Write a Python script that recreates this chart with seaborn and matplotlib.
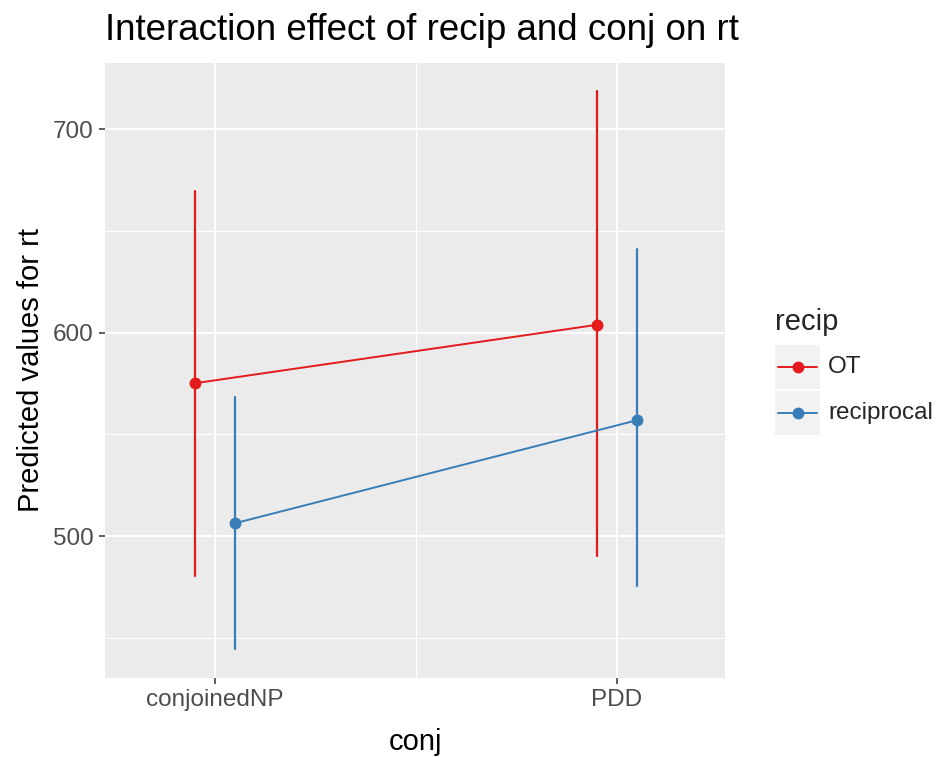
import matplotlib
matplotlib.use("Agg")
import matplotlib.pyplot as plt
from matplotlib.lines import Line2D
from matplotlib.patches import Rectangle
from matplotlib.ticker import FixedLocator
import pandas as pd
import seaborn as sns

# Predicted rt per condition with lower / upper confidence limits
conj_levels = ["conjoinedNP", "PDD"]
recip_levels = ["OT", "reciprocal"]
ot_pred = [575.2, 603.9]
ot_lower = [480.2, 490.5]
ot_upper = [669.8, 718.6]
recip_pred = [506.4, 557.0]
recip_lower = [444.4, 475.4]
recip_upper = [568.4, 641.1]

colors = {"OT": "#E41A1C", "reciprocal": "#377EB8"}

# long table: lower, predicted and upper value for every cell, so that
# the median is the prediction and the full range is the interval
rows = []
for lev, pred, lo, hi in [("OT", ot_pred, ot_lower, ot_upper),
                          ("reciprocal", recip_pred, recip_lower, recip_upper)]:
    for i, c in enumerate(conj_levels):
        for v in (lo[i], pred[i], hi[i]):
            rows.append({"conj": c, "recip": lev, "rt": v})
df = pd.DataFrame(rows)

sns.set_theme(style="darkgrid")
plt.rcParams["font.family"] = ["Liberation Sans", "DejaVu Sans"]

W, H = 938, 758
fig = plt.figure(figsize=(W / 100, H / 100), dpi=100)
fig.patch.set_facecolor("white")
ax = fig.add_axes([105 / W, (H - 678) / H, 620 / W, 615 / H])
ax.set_facecolor("#EBEBEB")

sns.pointplot(
    data=df, x="conj", y="rt", hue="recip",
    order=conj_levels, hue_order=recip_levels, palette=colors,
    estimator="median", errorbar=("pi", 100), dodge=0.1,
    markers="o", linestyles="-", markersize=7.5, linewidth=1.4,
    err_kws={"linewidth": 1.6}, legend=False, ax=ax,
)

ax.set_xlim(-0.274, 1.269)
ax.set_ylim(430.3, 732.6)

# grid
ax.yaxis.set_major_locator(FixedLocator([500, 600, 700]))
ax.yaxis.set_minor_locator(FixedLocator([450, 550, 650]))
ax.xaxis.set_minor_locator(FixedLocator([0.5]))
ax.grid(which="major", color="white", linewidth=1.4)
ax.grid(which="minor", color="white", linewidth=0.8)
ax.set_axisbelow(True)
for s in ax.spines.values():
    s.set_visible(False)

ax.tick_params(axis="both", which="major", length=4, width=1.1, color="#333333",
               labelsize=17.5, labelcolor="#4D4D4D", pad=4,
               bottom=True, left=True)
ax.tick_params(axis="both", which="minor", length=0)
ax.set_xticks([0, 1])
ax.set_xticklabels(conj_levels)

ax.set_xlabel("conj", fontsize=21, color="black", labelpad=12)
ax.set_ylabel("Predicted values for rt", fontsize=21, color="black", labelpad=6)

fig.text(105 / W, 1 - 31 / H, "Interaction effect of recip and conj on rt",
         ha="left", va="center", fontsize=26.5, color="black")

# legend, drawn in figure pixels
def fx(px):
    return px / W

def fy(py):
    return 1 - py / H

fig.text(fx(775), fy(322), "recip", ha="left", va="center", fontsize=21)
key_rows = [("OT", 367), ("reciprocal", 413)]
for lab, yc in key_rows:
    fig.add_artist(Rectangle((fx(775), fy(yc + 22)), 45 / W, 44 / H,
                             transform=fig.transFigure, facecolor="#F2F2F2",
                             edgecolor="none"))
    fig.add_artist(Line2D([fx(778), fx(817)], [fy(yc), fy(yc)],
                          transform=fig.transFigure, color=colors[lab],
                          linewidth=1.4))
    fig.add_artist(Line2D([fx(797.5)], [fy(yc)], transform=fig.transFigure,
                          marker="o", markersize=7.5, color=colors[lab],
                          linestyle="none"))
    fig.text(fx(828), fy(yc), lab, ha="left", va="center", fontsize=17.5)

fig.savefig("out.png", dpi=100)
